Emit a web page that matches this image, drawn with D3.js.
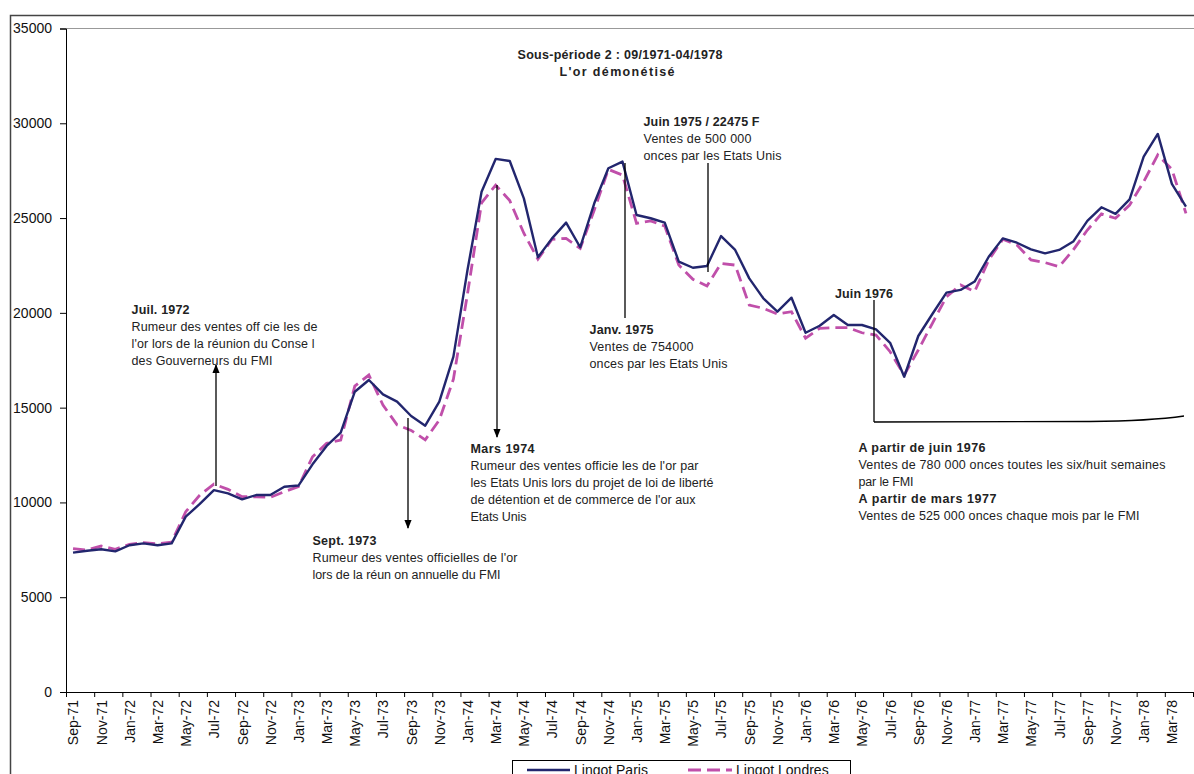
<!DOCTYPE html>
<html><head><meta charset="utf-8">
<script src="https://cdn.jsdelivr.net/npm/d3@7"></script>
<style>
body{margin:0;background:#fff;}
svg{font-family:"Liberation Sans",Arial,sans-serif;}
</style></head>
<body>
<svg id="c" width="1194" height="774"></svg>
<script>
const months = ["Sep-71","Oct-71","Nov-71","Dec-71","Jan-72","Feb-72","Mar-72","Apr-72","May-72","Jun-72","Jul-72","Aug-72",
"Sep-72","Oct-72","Nov-72","Dec-72","Jan-73","Feb-73","Mar-73","Apr-73","May-73","Jun-73","Jul-73","Aug-73",
"Sep-73","Oct-73","Nov-73","Dec-73","Jan-74","Feb-74","Mar-74","Apr-74","May-74","Jun-74","Jul-74","Aug-74",
"Sep-74","Oct-74","Nov-74","Dec-74","Jan-75","Feb-75","Mar-75","Apr-75","May-75","Jun-75","Jul-75","Aug-75",
"Sep-75","Oct-75","Nov-75","Dec-75","Jan-76","Feb-76","Mar-76","Apr-76","May-76","Jun-76","Jul-76","Aug-76",
"Sep-76","Oct-76","Nov-76","Dec-76","Jan-77","Feb-77","Mar-77","Apr-77","May-77","Jun-77","Jul-77","Aug-77",
"Sep-77","Oct-77","Nov-77","Dec-77","Jan-78","Feb-78","Mar-78","Apr-78"];

const paris = [7350,7450,7530,7420,7740,7840,7740,7840,9250,9920,10650,10480,
10160,10390,10390,10830,10890,12010,12980,13680,15840,16460,15700,15320,
14560,14050,15320,17690,22260,26390,28120,28010,26040,22930,23930,24760,
23460,25780,27630,27980,25160,24990,24760,22700,22380,22475,24050,23320,
21820,20770,20060,20800,18950,19320,19890,19360,19360,19130,18420,16630,
18780,19940,21070,21210,21650,22960,23930,23700,23350,23140,23320,23760,
24850,25570,25220,25990,28240,29440,26800,25600];

const londres = [7560,7490,7700,7530,7790,7880,7810,7910,9510,10390,10970,10690,
10300,10300,10270,10570,10830,12410,13120,13290,16140,16720,15140,14090,
13800,13300,14350,16500,21000,25800,26740,25920,24200,22830,23880,23930,
23400,25430,27570,27270,24720,24850,24580,22520,21770,21420,22610,22520,
20410,20240,19940,20060,18660,19180,19220,19220,18950,18830,17950,16720,
18040,19450,20850,21470,21120,22790,23880,23580,22790,22650,22440,23320,
24370,25220,24990,25690,26920,28330,27570,25250];

const yTicks = [0,5000,10000,15000,20000,25000,30000,35000];
const seriesNames = ["Lingot Paris","Lingot Londres"];

const svg = d3.select("#c");
const L = 66, R = 1193, T = 28.5, B = 692;
const n = months.length;
const xIdx = d3.scaleLinear().domain([0, n]).range([L, R]);
const y = d3.scaleLinear().domain([0, 35000]).range([B, T]);

// outer chart border
svg.append("path").attr("d","M10.5,774 L10.5,15.5 L1194,15.5").attr("fill","none").attr("stroke","#444").attr("stroke-width",1.5);
// plot-area top border
svg.append("line").attr("x1",L).attr("x2",1194).attr("y1",T).attr("y2",T).attr("stroke","#999").attr("stroke-width",1);

// Y axis
const ya = svg.append("g").attr("transform",`translate(${L},0)`)
  .call(d3.axisLeft(y).tickValues(yTicks).tickSize(6).tickPadding(8).tickFormat(d3.format("d")));
ya.select(".domain").attr("stroke","#000");
ya.selectAll(".tick line").attr("stroke","#000");
ya.selectAll("text").attr("font-size",14).attr("fill","#111").attr("font-family","Liberation Sans, Arial");

// X axis: tick marks at every 2 category boundaries
const xa = svg.append("g").attr("transform",`translate(0,${B})`)
  .call(d3.axisBottom(xIdx).tickValues(d3.range(0, n + 1, 2)).tickSize(5).tickFormat(""));
xa.select(".domain").attr("stroke","#000");
xa.selectAll(".tick line").attr("stroke","#000");
// X labels centred in categories
const xl = svg.append("g").attr("transform",`translate(0,${B})`)
  .call(d3.axisBottom(xIdx).tickValues(d3.range(0, n, 2).map(i => i + 0.5)).tickSize(0)
    .tickFormat(v => months[Math.round(v - 0.5)]));
xl.select(".domain").remove();
xl.selectAll("text").attr("font-size",14).attr("fill","#111").attr("font-family","Liberation Sans, Arial")
  .attr("text-anchor","end").attr("dy","0.35em")
  .attr("transform","translate(0,8) rotate(-90)").attr("x",0).attr("y",0);

const line = d3.line().x((d,i) => xIdx(i + 0.5)).y(d => y(d));

svg.append("path").datum(londres).attr("d",line).attr("fill","none")
  .attr("stroke","#C04FAA").attr("stroke-width",2.8).attr("stroke-dasharray","12,6");
svg.append("path").datum(paris).attr("d",line).attr("fill","none")
  .attr("stroke","#22266E").attr("stroke-width",2.4).attr("stroke-linejoin","round");

// arrow marker
const defs = svg.append("defs");
defs.append("marker").attr("id","ah").attr("viewBox","0 0 10 10").attr("refX",9).attr("refY",5)
  .attr("markerWidth",7).attr("markerHeight",7).attr("orient","auto-start-reverse")
  .append("path").attr("d","M0,1 L10,5 L0,9 z").attr("fill","#000");

function vline(x, y1, y2, arrow){
  const l = svg.append("line").attr("x1",x).attr("x2",x).attr("y1",y1).attr("y2",y2)
    .attr("stroke","#000").attr("stroke-width",1.3);
  if(arrow) l.attr("marker-end","url(#ah)");
}
vline(216, 486, 365, true);
vline(408, 418, 528, true);
vline(497, 185, 437, true);
vline(625, 163, 318, false);
vline(708, 163, 272, false);
vline(874, 300, 422, false);
svg.append("path").attr("d","M874,422 L1090,421.5 Q1150,421 1184,416").attr("fill","none").attr("stroke","#000").attr("stroke-width",1.3);

// text blocks (w = measured width of each line in the reference)
function block(x, y0, lines){
  const g = svg.append("g");
  lines.forEach((ln,i) => {
    g.append("text").attr("x",x).attr("y",y0 + i*16.9).text(ln.t)
      .attr("font-size",12.5).attr("font-weight",ln.b ? "bold":"normal").attr("fill","#222")
      .attr("textLength",ln.w).attr("lengthAdjust","spacing");
  });
}
// title
svg.append("text").attr("x",620).attr("y",59).attr("text-anchor","middle").attr("font-size",12.5)
  .attr("font-weight","bold").attr("fill","#222").attr("textLength",205).attr("lengthAdjust","spacing")
  .text("Sous-période 2 : 09/1971-04/1978");
svg.append("text").attr("x",617).attr("y",76).attr("text-anchor","middle").attr("font-size",12.5)
  .attr("font-weight","bold").attr("fill","#222").attr("textLength",115).attr("lengthAdjust","spacing")
  .text("L'or démonétisé");

block(131.5, 314, [{t:"Juil. 1972",b:1,w:58},{t:"Rumeur des ventes off cie les de",w:186},{t:"l'or lors de  la réunion du Conse l",w:183},{t:"des Gouverneurs du FMI",w:141}]);
block(312.5, 545, [{t:"Sept. 1973",b:1,w:64},{t:"Rumeur des ventes officielles de l'or",w:205},{t:"lors de la réun on annuelle du FMI",w:188}]);
block(470.5, 453, [{t:"Mars 1974",b:1,w:64},{t:"Rumeur des ventes officie les de l'or par",w:228},{t:"les Etats Unis lors du projet de loi de liberté",w:243},{t:"de détention et de commerce de l'or aux",w:225},{t:"Etats Unis",w:56}]);
block(589.5, 334, [{t:"Janv. 1975",b:1,w:64},{t:"Ventes de 754000",w:104},{t:"onces par les Etats Unis",w:138}]);
block(643.5, 126, [{t:"Juin 1975 / 22475 F",b:1,w:116},{t:"Ventes de 500 000",w:108},{t:"onces par les Etats Unis",w:138}]);
block(835, 298, [{t:"Juin 1976",b:1,w:58}]);
block(858.5, 452, [{t:"A partir de juin 1976",b:1,w:127},{t:"Ventes de 780 000 onces toutes les six/huit semaines",w:307},{t:"par le FMI",w:55},{t:"A partir de mars 1977",b:1,w:138},{t:"Ventes de 525 000 onces chaque mois par le FMI",w:281}]);

// legend
const lg = svg.append("g");
lg.append("rect").attr("x",512.5).attr("y",760.5).attr("width",338).attr("height",30).attr("fill","#fff").attr("stroke","#000").attr("stroke-width",1);
lg.append("line").attr("x1",527).attr("x2",570).attr("y1",770).attr("y2",770).attr("stroke","#22266E").attr("stroke-width",2.4);
lg.append("text").attr("x",574).attr("y",775).attr("font-size",14).attr("fill","#111").text(seriesNames[0]);
lg.append("line").attr("x1",688).attr("x2",732).attr("y1",770).attr("y2",770).attr("stroke","#C04FAA").attr("stroke-width",2.8).attr("stroke-dasharray","13,6");
lg.append("text").attr("x",736).attr("y",775).attr("font-size",14).attr("fill","#111").text(seriesNames[1]);
</script>
</body></html>
